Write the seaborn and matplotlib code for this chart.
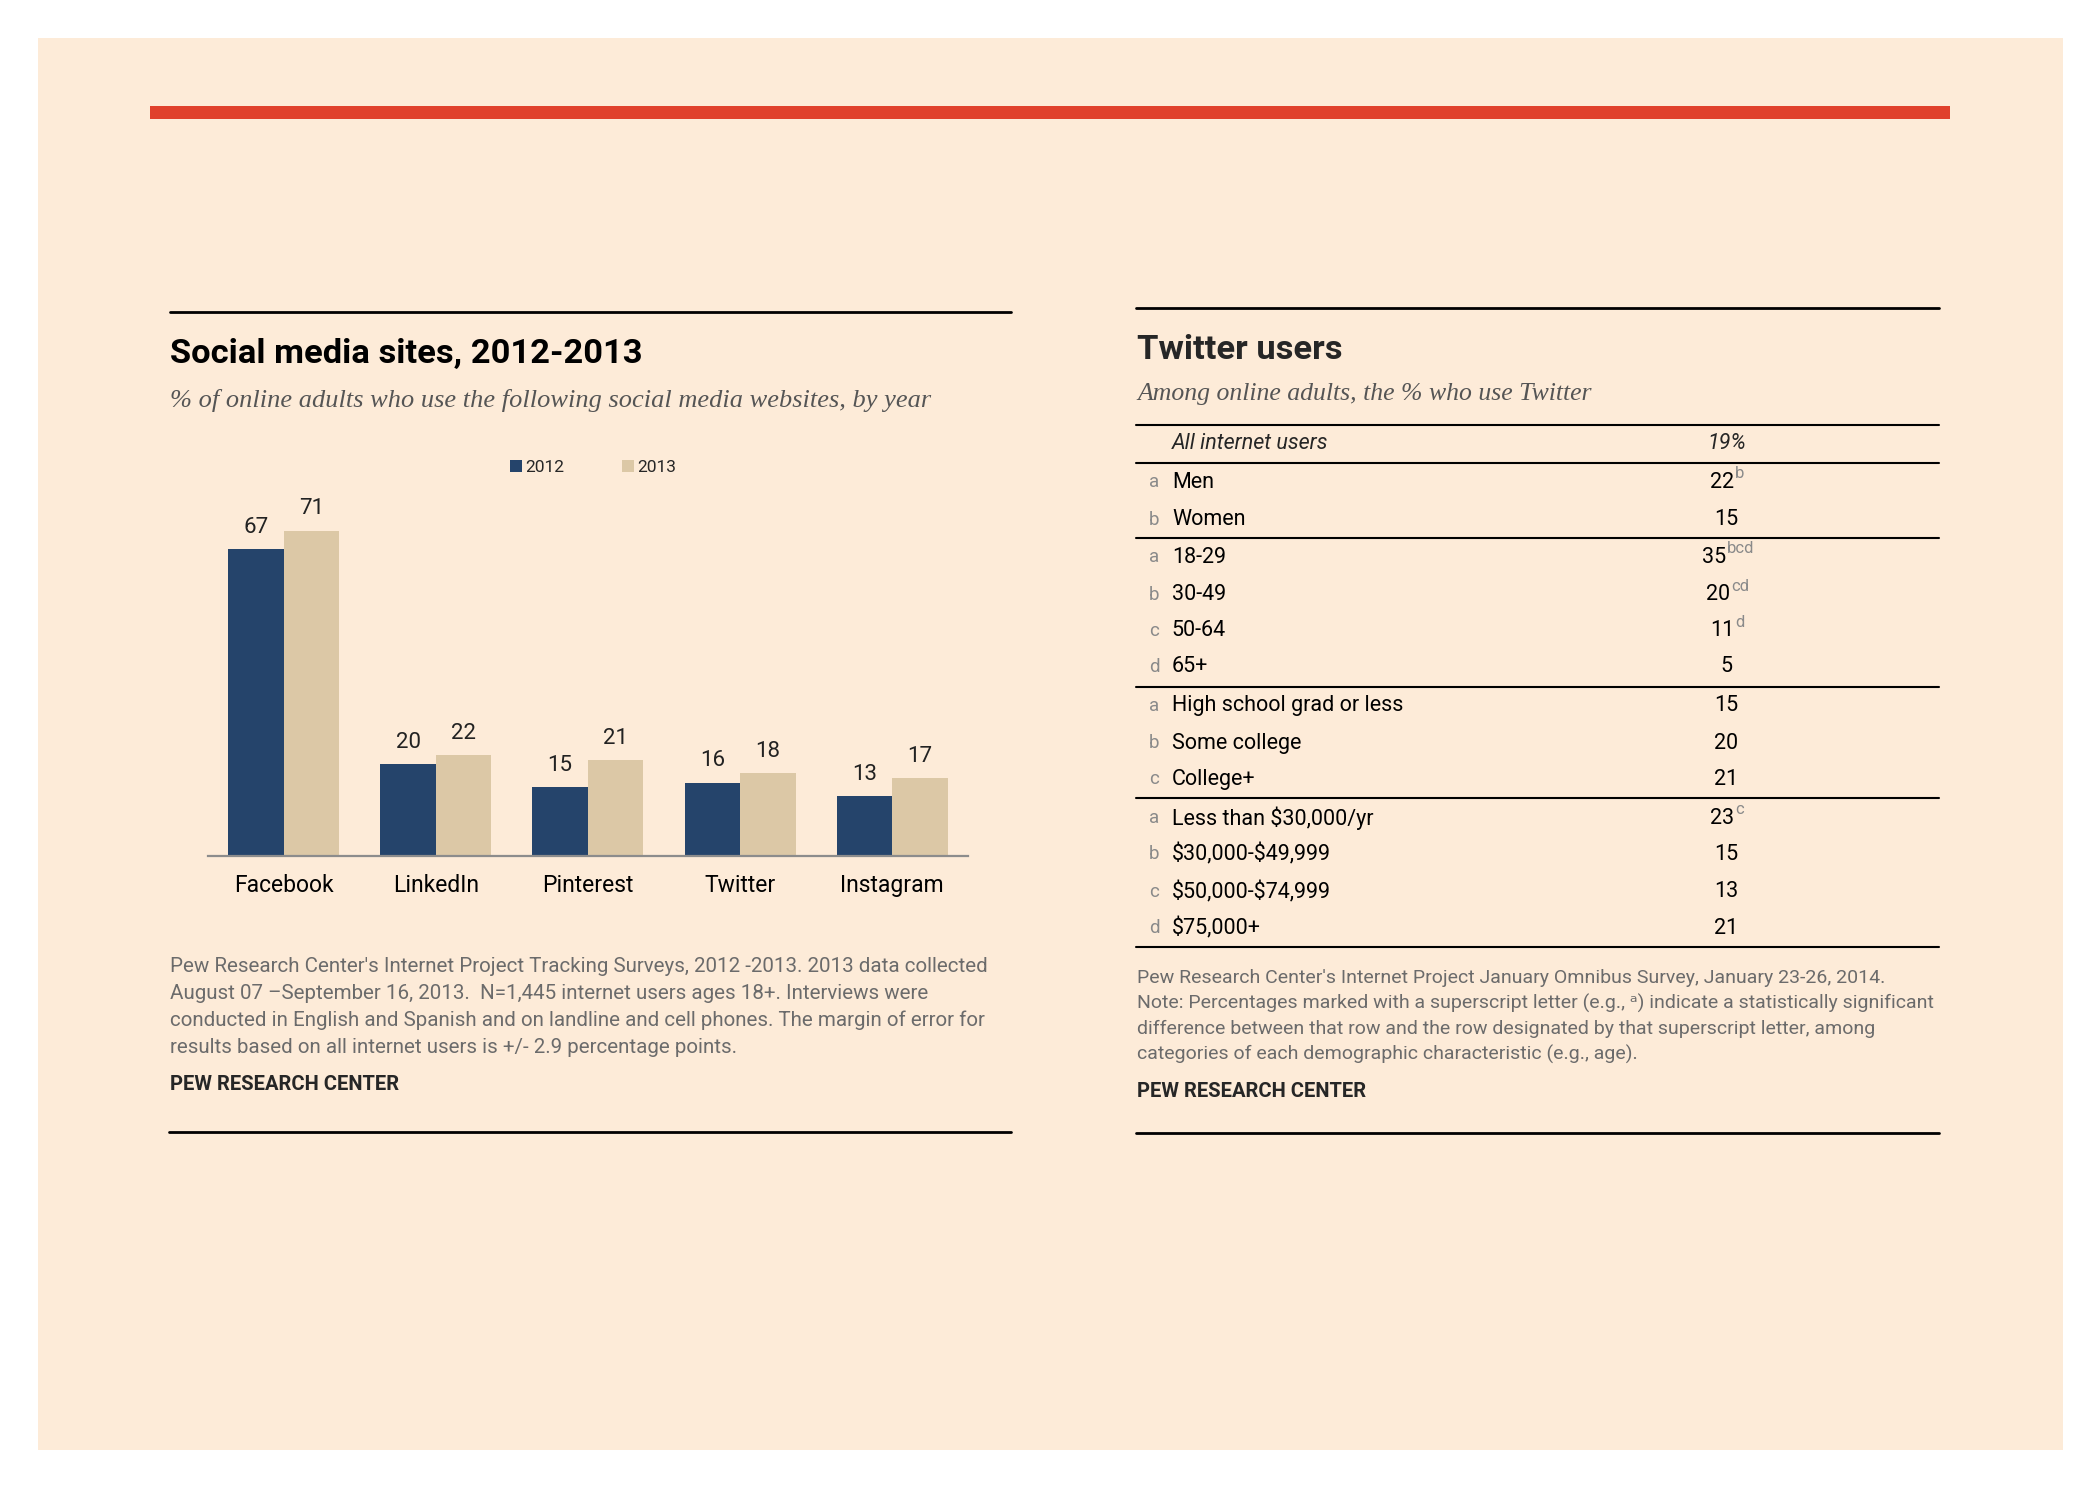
import numpy as np
import pandas as pd
import seaborn as sns
import matplotlib.pyplot as plt
from matplotlib.lines import Line2D
from matplotlib.patches import Rectangle

# Bar chart data
sites = ['Facebook', 'LinkedIn', 'Pinterest', 'Twitter', 'Instagram']
years = ['2012', '2013']
pct_2012 = [67, 20, 15, 16, 13]
pct_2013 = [71, 22, 21, 18, 17]

# Twitter users table data
row_letters = ['a', 'b', 'a', 'b', 'c', 'd', 'a', 'b', 'c', 'a', 'b', 'c', 'd']
row_labels = ['Men', 'Women', '18-29', '30-49', '50-64', '65+',
              'High school grad or less', 'Some college', 'College+',
              'Less than \\$30,000/yr', '\\$30,000-\\$49,999', '\\$50,000-\\$74,999', '\\$75,000+']
row_values = ['22', '15', '35', '20', '11', '5', '15', '20', '21', '23', '15', '13', '21']
row_sups = ['b', '', 'bcd', 'cd', 'd', '', '', '', '', 'c', '', '', '']
all_users_label = 'All internet users'
all_users_value = '19%'

NAVY = '#25446b'
TAN = '#dcc8a6'
PEACH = '#fdebd8'
RED = '#e0412c'
GREY_TXT = '#6b6b6b'

sns.set_theme(style='white')
plt.rcParams['font.family'] = ['Liberation Sans Narrow', 'Roboto', 'DejaVu Sans']
SERIF = ['Liberation Serif', 'DejaVu Serif']

# reference layout measured on a 1568 x 1120 grid
W, H = 1568.0, 1120.0
def fx(x):
    return x / W
def fy(y):
    return 1 - y / H

fig = plt.figure(figsize=(21, 15), dpi=100)
fig.patch.set_facecolor('white')
fig.add_artist(Rectangle((fx(28), fy(1083)), fx(1540) - fx(28), fy(28) - fy(1083),
                         transform=fig.transFigure, facecolor=PEACH, edgecolor='none', zorder=0))
fig.add_artist(Rectangle((fx(112), fy(89)), fx(1456) - fx(112), fy(79) - fy(89),
                         transform=fig.transFigure, facecolor=RED, edgecolor='none', zorder=1))

def hline(x0, x1, y, lw=2.0, color='black'):
    fig.add_artist(Line2D([fx(x0), fx(x1)], [fy(y), fy(y)], transform=fig.transFigure,
                          color=color, lw=lw, zorder=2))

# ---------------- left panel: bar chart ----------------
hline(127, 755, 233)
fig.text(fx(127), fy(264), 'Social media sites, 2012-2013', fontsize=24.8, fontweight='bold',
         ha='left', va='center', color='black')
fig.text(fx(127), fy(299), '% of online adults who use the following social media websites, by year',
         fontsize=19, style='italic', family=SERIF, ha='left', va='center', color='#555555')

df = pd.DataFrame({'site': sites * 2,
                   'year': [years[0]] * len(sites) + [years[1]] * len(sites),
                   'pct': pct_2012 + pct_2013})

ax = fig.add_axes([fx(155), fy(639), fx(723) - fx(155), fy(365.4) - fy(639)])
ax.set_facecolor('none')
sns.barplot(data=df, x='site', y='pct', hue='year', order=sites, hue_order=years,
            palette=[NAVY, TAN], width=0.73, saturation=1, linewidth=0, ax=ax, legend=True)
for cont in ax.containers:
    ax.bar_label(cont, fontsize=16, padding=8, color='#222222')
ax.set_xlim(-0.5, 4.5)
ax.set_ylim(0, 80)
ax.set_xlabel('')
ax.set_ylabel('')
ax.set_yticks([])
ax.tick_params(axis='x', length=0, labelsize=16.5, pad=13, colors='black')
sns.despine(ax=ax, left=True)
ax.spines['bottom'].set_color('#8c8c8c')
ax.spines['bottom'].set_linewidth(1.6)

handles, labels = ax.get_legend_handles_labels()
ax.legend(handles, labels, loc='center', bbox_to_anchor=(fx(443), fy(349)),
          bbox_transform=fig.transFigure, ncol=2, frameon=False, fontsize=12.5,
          handlelength=0.7, handleheight=0.7, handletextpad=0.2, columnspacing=3.3)

notes_left = ["Pew Research Center's Internet Project Tracking Surveys, 2012 -2013. 2013 data collected",
              "August 07 \u2013September 16, 2013.  N=1,445 internet users ages 18+. Interviews were",
              "conducted in English and Spanish and on landline and cell phones. The margin of error for",
              "results based on all internet users is +/- 2.9 percentage points."]
for i, line in enumerate(notes_left):
    fig.text(fx(127), fy(722 + 20 * i), line, fontsize=14.8, color=GREY_TXT, ha='left', va='center')
fig.text(fx(127), fy(810), 'PEW RESEARCH CENTER', fontsize=14.5, fontweight='bold', ha='left', va='center')
hline(126, 755, 845)

# ---------------- right panel: table ----------------
hline(848, 1448, 230)
fig.text(fx(849), fy(261), 'Twitter users', fontsize=24.8, fontweight='bold', ha='left', va='center')
fig.text(fx(849), fy(294), 'Among online adults, the % who use Twitter', fontsize=18.5, style='italic',
         family=SERIF, ha='left', va='center', color='#555555')

for yy in [317, 346, 402, 513, 596, 707]:
    hline(848, 1448, yy, lw=1.5)

fig.text(fx(875), fy(331), all_users_label, fontsize=15.5, style='italic', ha='left', va='center')
fig.text(fx(1289), fy(331), all_users_value, fontsize=15.5, style='italic', ha='center', va='center')

row_y = [360, 388, 416, 444, 471, 498, 527, 555, 582, 611, 638, 666, 693]
for letter, label, val, sup, yy in zip(row_letters, row_labels, row_values, row_sups, row_y):
    fig.text(fx(862), fy(yy), letter, fontsize=13.5, color='#8a8a8a', ha='center', va='center')
    fig.text(fx(875), fy(yy), label, fontsize=15.5, ha='left', va='center', color='black')
    shift = 3.0 * len(sup)
    t = fig.text(fx(1289 - shift), fy(yy), val, fontsize=15.5, ha='center', va='center', color='black')
    if sup:
        ax.annotate(sup, xy=(1.0, 0.55), xycoords=t, xytext=(0.5, 0), textcoords='offset points',
                    fontsize=12, color='#8a8a8a', ha='left', va='bottom', annotation_clip=False)

notes_right = ["Pew Research Center's Internet Project January Omnibus Survey, January 23-26, 2014.",
               "Note: Percentages marked with a superscript letter (e.g., \u1d43) indicate a statistically significant",
               "difference between that row and the row designated by that superscript letter, among",
               "categories of each demographic characteristic (e.g., age)."]
for i, line in enumerate(notes_right):
    fig.text(fx(849), fy(730 + 19 * i), line, fontsize=14, color=GREY_TXT, ha='left', va='center')
fig.text(fx(849), fy(815), 'PEW RESEARCH CENTER', fontsize=14.5, fontweight='bold', ha='left', va='center')
hline(848, 1448, 846)

fig.savefig('out.png', dpi=100, facecolor=fig.get_facecolor())
